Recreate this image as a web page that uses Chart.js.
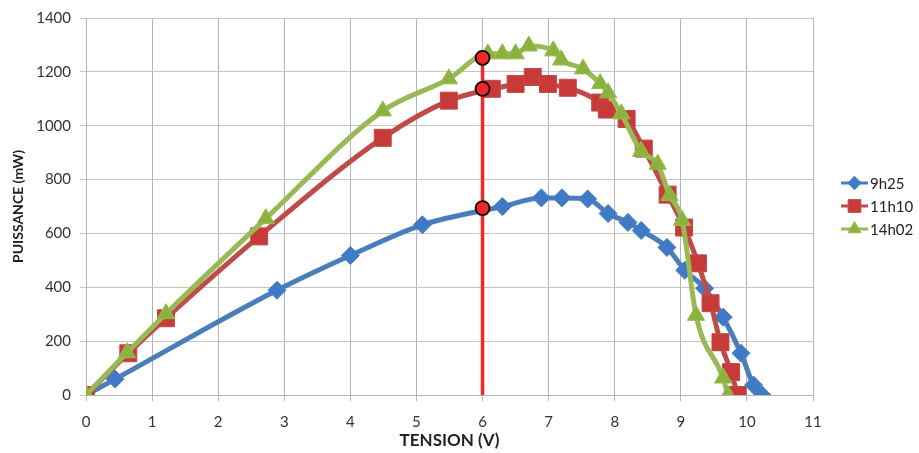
<!DOCTYPE html>
<html>
<head>
<meta charset="utf-8">
<script src="https://cdn.jsdelivr.net/npm/chart.js@4.4.0/dist/chart.umd.min.js"></script>
<style>
  body { margin: 0; background: #fff; }
  #wrap { width: 919px; height: 453px; }
</style>
</head>
<body>
<div id="wrap"><canvas id="myChart"></canvas></div>
<script>
// 9h25
const v0925 = [0, 0.44, 2.89, 4.0, 5.09, 6.3, 6.89, 7.2, 7.59, 7.9, 8.2, 8.4, 8.79, 9.06, 9.36, 9.64, 9.91, 10.1, 10.23];
const p0925 = [0, 59, 389, 518, 632, 700, 732, 732, 728, 674, 641, 611, 548, 463, 396, 289, 155, 37, 0];
// 11h10
const v1110 = [0, 0.64, 1.21, 2.62, 4.49, 5.49, 6.14, 6.5, 6.76, 6.99, 7.29, 7.78, 7.88, 8.18, 8.44, 8.8, 9.05, 9.26, 9.45, 9.6, 9.76, 9.86];
const p1110 = [0, 155, 285, 589, 955, 1093, 1137, 1155, 1181, 1155, 1141, 1086, 1060, 1025, 915, 744, 622, 489, 341, 196, 85, 0];
// 14h02
const v1402 = [0, 0.62, 1.21, 2.72, 4.49, 5.49, 6.08, 6.3, 6.5, 6.7, 7.07, 7.19, 7.52, 7.78, 7.9, 8.1, 8.4, 8.65, 8.83, 9.02, 9.23, 9.64, 9.71];
const p1402 = [0, 157, 302, 655, 1055, 1174, 1267, 1267, 1267, 1296, 1278, 1244, 1211, 1156, 1122, 1044, 905, 857, 741, 648, 296, 63, 0];
// vertical marker at 6 V
const markV = [6, 6, 6, 6];
const markP = [0, 694, 1137, 1252];

const seriesNames = ['9h25', '11h10', '14h02'];
const xTicks = [0, 1, 2, 3, 4, 5, 6, 7, 8, 9, 10, 11];

const toXY = (xs, ys) => xs.map((x, i) => ({ x: x, y: ys[i] }));

const serie = (label, xs, ys, color, fill, style, radius, order) => ({
    label: label,
    data: toXY(xs, ys),
    borderColor: color,
    borderWidth: 5,
    backgroundColor: fill,
    pointStyle: style,
    pointRadius: radius,
    pointBackgroundColor: fill,
    pointBorderColor: color,
    pointBorderWidth: 1,
    cubicInterpolationMode: 'monotone',
    order: order
});

const sideLegend = {
    id: 'sideLegend',
    afterDraw(chart) {
        const ctx = chart.ctx;
        const x0 = chart.chartArea.right + 28;
        ctx.save();
        ctx.font = '15px Lato';
        ctx.textBaseline = 'middle';
        seriesNames.forEach((name, i) => {
            const ds = chart.data.datasets[i];
            const y = 183 + i * 23;
            ctx.strokeStyle = ds.borderColor;
            ctx.lineWidth = 3;
            ctx.beginPath();
            ctx.moveTo(x0, y);
            ctx.lineTo(x0 + 27, y);
            ctx.stroke();
            ctx.fillStyle = ds.pointBackgroundColor;
            ctx.lineWidth = 1;
            Chart.helpers.drawPoint(ctx, {
                pointStyle: ds.pointStyle,
                radius: ds.pointRadius * 0.75,
                borderWidth: 1
            }, x0 + 13.5, y);
            ctx.fillStyle = '#222';
            ctx.fillText(name, x0 + 29, y + 1);
        });
        ctx.restore();
    }
};

const ctx = document.getElementById('myChart').getContext('2d');
const myChart = new Chart(ctx, {
    type: 'line',
    data: {
        datasets: [
            serie(seriesNames[0], v0925, p0925, '#4A7EBB', '#3F7AC6', 'rectRot', 9, 3),
            serie(seriesNames[1], v1110, p1110, '#BE4B48', '#C83A38', 'rect', 12, 2),
            serie(seriesNames[2], v1402, p1402, '#98B954', '#8AB33E', 'triangle', 10, 1),
            {
                label: 'marque',
                data: toXY(markV, markP),
                borderColor: '#F42626',
                borderWidth: 3.5,
                pointRadius: [0, 7, 7, 7],
                pointBackgroundColor: '#F02828',
                pointBorderColor: '#000',
                pointBorderWidth: 1.8,
                order: 0
            }
        ]
    },
    options: {
        responsive: true,
        maintainAspectRatio: false,
        animation: false,
        layout: {
            padding: { left: 0, right: 106, top: 17, bottom: 0 }
        },
        scales: {
            x: {
                type: 'linear',
                min: 0,
                max: 11,
                afterBuildTicks: (s) => { s.ticks = xTicks.map(v => ({ value: v })); },
                afterFit: (s) => { s.height = 58; },
                grid: { color: '#b4b4b4', tickLength: 6 },
                border: { color: '#b4b4b4' },
                ticks: { color: '#333', font: { family: 'Lato', size: 15 }, padding: 12, maxRotation: 0 },
                title: {
                    display: true,
                    text: 'TENSION (V)',
                    color: '#222',
                    font: { family: 'Lato', size: 17, weight: 'bold' },
                    padding: { top: 0, bottom: 2 }
                }
            },
            y: {
                min: 0,
                max: 1400,
                afterFit: (s) => { s.width = 86; },
                grid: { color: '#c4c4c4', tickLength: 6 },
                border: { color: '#b4b4b4' },
                ticks: {
                    stepSize: 200,
                    color: '#333',
                    font: { family: 'Lato', size: 15 },
                    padding: 9,
                    callback: (v) => String(v)
                },
                title: {
                    display: true,
                    text: 'PUISSANCE (mW)',
                    color: '#222',
                    font: { family: 'Lato', size: 14, weight: 'bold' },
                    padding: { top: 10, bottom: 0 }
                }
            }
        },
        plugins: {
            legend: false,
            tooltip: { enabled: false }
        }
    },
    plugins: [sideLegend]
});
</script>
</body>
</html>
